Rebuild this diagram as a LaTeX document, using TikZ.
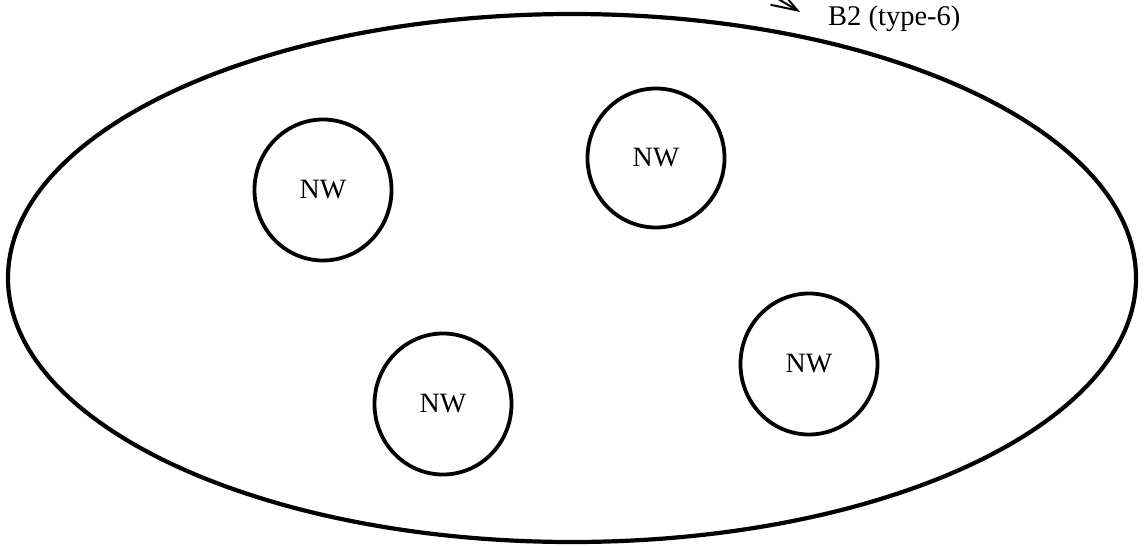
\documentclass[tikz,border=0pt]{standalone}
\usepackage{fontspec}
\setmainfont{Liberation Serif}
\usetikzlibrary{arrows.meta,shapes.geometric}
\begin{document}
\begin{tikzpicture}[x=1pt,y=-1pt,
  outer/.style={draw=black,line width=4.2pt},
  nw/.style={draw=black,line width=3.8pt,ellipse,inner sep=0pt,minimum width=137pt,minimum height=141pt,font=\fontsize{28}{30}\selectfont},
  lbl/.style={font=\fontsize{28.5}{30}\selectfont}]
\useasboundingbox (0,0) rectangle (1148,546);
\clip (0,0) rectangle (1148,546);
\fill[white] (0,0) rectangle (1148,546);
% outer region
\draw[outer] (572,278) ellipse [x radius=564, y radius=264];
% inner circles
\node[nw] (n1) at (323,190) {NW};
\node[nw,minimum height=139pt] (n2) at (656,158) {NW};
\node[nw] (n3) at (443,404) {NW};
\node[nw] (n4) at (809,364) {NW};
% label and arrow
\node[lbl,anchor=base west,inner sep=0pt] (b2) at (828,25) {B2 (type-6)};
\coordinate (tail) at (740,-24);
\coordinate (tip) at (800,12);
\draw[line width=2pt,-{Straight Barb[length=26pt,width=18pt,line width=2pt]}] (tail) -- (tip);
\end{tikzpicture}
\end{document}
